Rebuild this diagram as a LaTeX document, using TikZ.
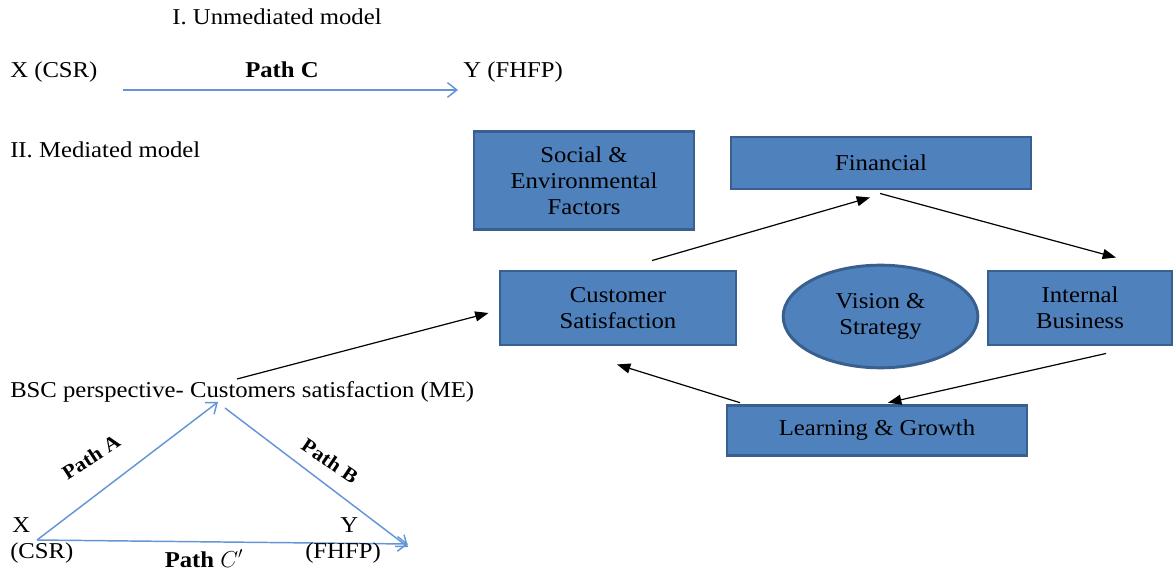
\documentclass[tikz,border=0pt]{standalone}
\usepackage{fontspec}
\setmainfont{Liberation Serif}[FakeStretch=1.09]
\usetikzlibrary{arrows.meta,shapes.geometric,calc}
\definecolor{boxfill}{HTML}{4F81BD}
\definecolor{boxedge}{HTML}{385F8E}
\definecolor{pathblue}{HTML}{6495D6}

\begin{document}
\begin{tikzpicture}[x=0.75pt,y=-0.75pt,
  font=\fontsize{17}{19.5}\selectfont,
  card/.style={draw=boxedge, line width=2.2pt, fill=boxfill, align=center, inner sep=0pt},
  txt/.style={inner sep=0pt, anchor=base west},
  flow/.style={-{Triangle[length=10pt,width=7.5pt]}, line width=0.9pt, black},
  link/.style={-{Straight Barb[length=7pt,width=11pt]}, line width=1.1pt, pathblue},
  plabel/.style={font=\fontsize{15}{16}\selectfont\bfseries, inner sep=0pt}]
\useasboundingbox (0,0) rectangle (1173,573);

% I. Unmediated model
\node[inner sep=0pt, anchor=base] (t1) at (277,25) {I. Unmediated model};
\node[txt] (xc) at (10,78) {X (CSR)};
\node[inner sep=0pt, anchor=base, font=\fontsize{17}{19}\selectfont\bfseries] (pc) at (282,78) {Path C};
\node[txt] (yc) at (463,78) {Y (FHFP)};
\coordinate (cs) at (123,90);
\coordinate (ce) at (458,90);
\draw[link] (cs) -- (ce);

% II. Mediated model
\node[txt] (t2) at (10,158) {II. Mediated model};

% Balanced scorecard perspectives
\node[card, minimum width=165pt, minimum height=74pt] (soc) at (584,180.5) {Social \&\\Environmental\\Factors};
\node[card, minimum width=225pt, minimum height=39pt] (fin) at (881,163) {Financial};
\node[card, minimum width=177pt, minimum height=55.5pt] (cust) at (618,308) {Customer\\Satisfaction};
\node[card, ellipse, minimum width=146pt, minimum height=77pt] (vis) at (880.5,316.5) {Vision \&\\Strategy};
\node[card, minimum width=138pt, minimum height=55.5pt] (int) at (1080,308) {Internal\\Business};
\node[card, minimum width=225pt, minimum height=38pt] (learn) at (877,430.5) {Learning \& Growth};

\draw[flow] ($(cust.north)+(34,-9)$) -- ($(fin.south)+(-11,7)$);
\draw[flow] ($(fin.south)+(-1,3)$) -- ($(int.north)+(36,-12)$);
\draw[flow] ($(int.south)+(26,7)$) -- ($(learn.north)+(11,-1)$);
\draw[flow] ($(learn.north)+(-137,-1)$) -- ($(cust.south)+(-1,18)$);

% Mediator
\node[txt] (bsc) at (10,397) {BSC perspective- Customers satisfaction (ME)};
\coordinate (bt) at (237,379);
\draw[flow] (bt) -- ($(cust.west)+(-10,5)$);

% Mediation triangle
\coordinate (xa) at (37,540);
\coordinate (me) at (218,402);
\coordinate (mb) at (225,408);
\coordinate (ya) at (408,547);
\coordinate (yb) at (408,544);
\draw[link] (xa) -- (me);
\draw[link] (mb) -- (ya);
\draw[link] (xa) -- (yb);

\node[txt] (x2) at (12,532) {X};
\node[txt] (x3) at (10,558) {(CSR)};
\node[txt] (y2) at (340,532) {Y};
\node[txt] (y3) at (305,558) {(FHFP)};

\node[plabel, rotate=33] (pa) at (91,457) {Path A};
\node[plabel, rotate=-34] (pb) at (330,461) {Path B};
\node[inner sep=0pt, anchor=base, font=\fontsize{17}{19}\selectfont] (pcp) at (204,567) {\textbf{Path} $C'$};
\end{tikzpicture}
\end{document}
